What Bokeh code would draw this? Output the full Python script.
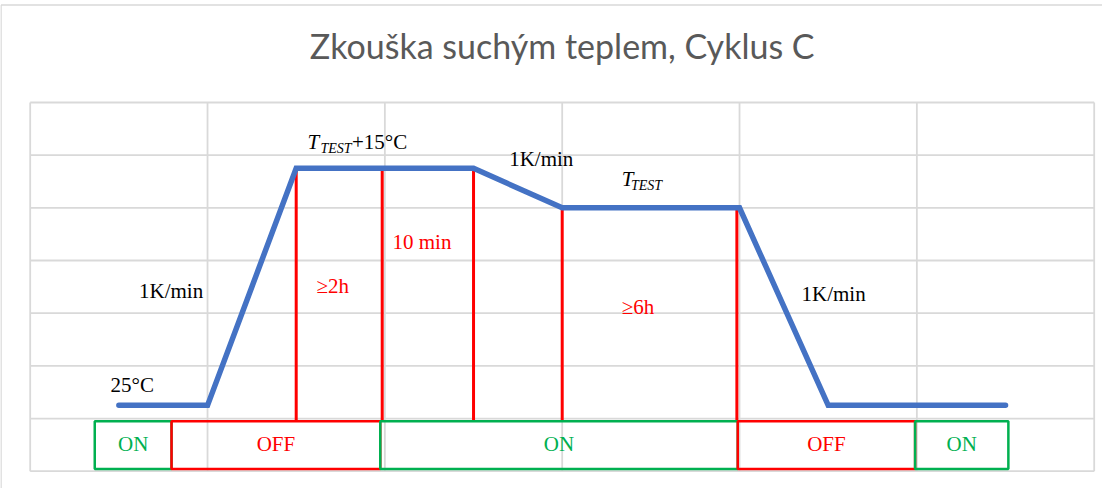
from bokeh.plotting import figure
from bokeh.models import Range1d
from bokeh.core.properties import value
from bokeh.embed import file_html
from bokeh.resources import INLINE

# ---------------- data ----------------
# temperature profile (grid units: x = time columns, y = temperature rows)
profile_x = [0.5, 1.0, 1.5, 2.5, 3.0, 4.0, 4.5, 5.5]
profile_y = [1.25, 1.25, 5.75, 5.75, 5.0, 5.0, 1.25, 1.25]

# red phase markers (x position, top value on profile)
marker_x = [1.5, 1.985, 2.5, 3.0, 3.985]
marker_top = [5.75, 5.75, 5.75, 5.0, 5.0]
marker_bottom = 0.95

# ON / OFF state boxes
state_labels = ["ON", "OFF", "ON", "OFF", "ON"]
state_left = [0.364, 0.797, 1.974, 3.99, 4.99]
state_right = [0.797, 1.974, 3.99, 4.99, 5.516]
state_bottom = 0.04
state_top = 0.95

# grid ticks
x_ticks = [0, 1, 2, 3, 4, 5, 6]
y_ticks = [0, 1, 2, 3, 4, 5, 6, 7]

title_text = "Zkouška suchým teplem, Cyklus C"

# ---------------- layout ----------------
W, H = 1102, 488
GX0, GX1 = 37.7, 1101.7     # page px of grid left / right
GY0, GY1 = 478.7, 110.0     # page px of grid bottom / top
sx = (GX1 - GX0) / 6.0
sy = (GY0 - GY1) / 7.0

def dx(px):
    return (px - GX0) / sx

def dy(py):
    return (GY0 - py) / sy

p = figure(width=W, height=H, output_backend="svg", toolbar_location=None,
           x_range=Range1d(dx(8), dx(8 + W)), y_range=Range1d(dy(8 + H), dy(8)),
           min_border=0)
p.axis.visible = False
p.xgrid.visible = False
p.ygrid.visible = False
p.outline_line_color = None
p.background_fill_color = "white"
p.border_fill_color = "white"

GRID = "#D9D9D9"
BLUE = "#4472C4"
RED = "#FF0000"
GREEN = "#00B050"

# outer chart border (left and top)
p.segment(x0=[dx(8.5), dx(8.5)], y0=[dy(12.5), dy(12.5)],
          x1=[dx(8.5), dx(8 + W)], y1=[dy(8 + H), dy(12.5)],
          line_color=GRID, line_width=1.5)

# grid
p.segment(x0=x_ticks, y0=[y_ticks[0]] * len(x_ticks), x1=x_ticks, y1=[y_ticks[-1]] * len(x_ticks),
          line_color=GRID, line_width=1.8)
p.segment(x0=[x_ticks[0]] * len(y_ticks), y0=y_ticks, x1=[x_ticks[-1]] * len(y_ticks), y1=y_ticks,
          line_color=GRID, line_width=1.8)

# red markers
p.segment(x0=marker_x, y0=[marker_bottom] * len(marker_x), x1=marker_x, y1=marker_top,
          line_color=RED, line_width=3)

# state boxes
box_colors = [GREEN if s == "ON" else RED for s in state_labels]
for l, r, c in zip(state_left, state_right, box_colors):
    p.quad(left=[l], right=[r], bottom=[state_bottom], top=[state_top],
           fill_color=None, line_color=c, line_width=2.5)

# profile line
p.line(profile_x, profile_y, line_color=BLUE, line_width=5.5, line_cap="round", line_join="miter")

SERIF = value("Liberation Serif")
K = 0.36  # baseline correction (fraction of font size)

def txt(px, py, s, color="black", size=21, style="normal", align="left"):
    p.text(x=[dx(px)], y=[dy(py - K * size)], text=[s], text_color=color, text_font=SERIF,
           text_font_size=f"{size}px", text_font_style=style, text_align=align,
           text_baseline="alphabetic")

# state texts
for l, r, s, c in zip(state_left, state_right, state_labels, box_colors):
    cx = GX0 + (l + r) / 2 * sx
    txt(cx, 459.3, s, color=c, align="center")

# annotations
txt(118, 400, "25°C")
txt(210.7, 305.7, "1K/min", align="right")
txt(315, 156.7, "T", style="italic")
txt(328, 160.7, "TEST", style="italic", size=14)
txt(359.5, 156.7, "+15°C")
txt(516.7, 174.3, "1K/min")
txt(629.3, 194.3, "T", style="italic")
txt(638.5, 198.5, "TEST", style="italic", size=14)
txt(400, 256.7, "10 min", color=RED)
txt(324, 300.7, "≥2h", color=RED)
txt(629.3, 321.7, "≥6h", color=RED)
txt(809, 309.3, "1K/min")

# title
p.text(x=[3.0], y=[dy(68.3 - 0.45 * 34)], text=[title_text], text_color="#595959",
       text_font=value("Lato"), text_font_size="34px", text_align="center",
       text_baseline="alphabetic")

open("out.html", "w").write(file_html(p, INLINE))
